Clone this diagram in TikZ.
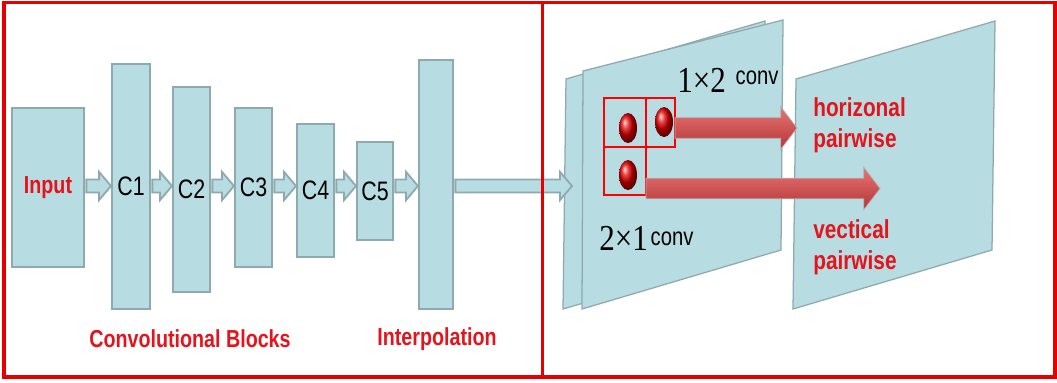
\documentclass[tikz,border=0pt]{standalone}
\usepackage{fontspec}
\usepackage{graphicx}
\usetikzlibrary{calc, shapes.geometric}
\newfontfamily\narrowsans{Liberation Sans}[FakeStretch=0.8]
\newfontfamily\narrowserif{Liberation Serif}[FakeStretch=0.85]
\definecolor{fmfill}{HTML}{B7DDE3}
\definecolor{fmline}{HTML}{8FAAAE}
\definecolor{framered}{HTML}{E60000}
\definecolor{textred}{HTML}{E3141C}
\definecolor{dotred}{HTML}{E00000}
\definecolor{pairred}{HTML}{E04444}

\newcommand{\flowarrow}[2]{%
  \draw[flowarrow] let \p1=#1, \p2=#2, \p3=(axis) in
    (\x1+1pt,\y3+4.6pt) -- (\x2-8.5pt,\y3+4.6pt) -- (\x2-8.5pt,\y3+10pt)
    -- (\x2,\y3) -- (\x2-8.5pt,\y3-10pt) -- (\x2-8.5pt,\y3-4.6pt)
    -- (\x1+1pt,\y3-4.6pt) -- cycle;}
\newcommand{\pairarrow}[2]{%
  \draw[pairarrow] let \p1=#1, \p2=#2 in
    (\x1,\y2+7.3pt) -- (\x2-11.5pt,\y2+7.3pt) -- (\x2-11.5pt,\y2+15pt)
    -- (\x2,\y2) -- (\x2-11.5pt,\y2-15pt) -- (\x2-11.5pt,\y2-7.3pt)
    -- (\x1,\y2-7.3pt) -- cycle;}

\begin{document}
\begin{tikzpicture}[x=0.025cm, y=-0.025cm,
  fmap/.style={draw=fmline, fill=fmfill, line width=1.4pt, inner sep=0pt,
               font=\narrowsans\fontsize{19}{22}\selectfont},
  flowarrow/.style={draw=fmline, fill=fmfill, line width=1.3pt, line join=miter},
  featplane/.style={draw=fmline, fill=fmfill, line width=0.9pt},
  kernelcell/.style={draw=red, line width=1.1pt, inner sep=0pt, outer sep=0pt},
  kerneldot/.style={ellipse, inner sep=0pt, minimum width=0.45cm,
                    minimum height=0.75cm, shading=ball, ball color=dotred},
  pairarrow/.style={draw=gray!60, line width=0.5pt, top color=pairred!75!white,
                    middle color=pairred, bottom color=pairred!80!black},
  redlbl/.style={text=textred, inner sep=0pt,
                 font=\narrowsans\bfseries\fontsize{17.5}{21}\selectfont},
  pairlbl/.style={text=textred, inner sep=0pt, align=left,
                  font=\narrowsans\bfseries\fontsize{18.5}{22}\selectfont},
  convlbl/.style={inner sep=0pt, font=\narrowserif\fontsize{26}{30}\selectfont},
  panel/.style={draw=framered, line width=2.2pt},
]
\useasboundingbox (0,0) rectangle (1057,382);

\node[fmap, minimum width=1.8cm, minimum height=3.975cm] (in) at (48,187.5)
  {\color{textred}\bfseries\fontsize{17.5}{21}\selectfont Input};
\node[fmap, minimum width=0.95cm, minimum height=6.125cm] (c1) at (131,186.5) {C1};
\node[fmap, minimum width=0.925cm, minimum height=5.125cm] (c2) at (191.5,189.5) {C2};
\node[fmap, minimum width=0.925cm, minimum height=3.975cm] (c3) at (253.5,187.5) {C3};
\node[fmap, minimum width=0.925cm, minimum height=3.325cm] (c4) at (315.5,190.5) {C4};
\node[fmap, minimum width=0.9cm, minimum height=2.45cm] (c5) at (375,191) {C5};
\node[fmap, minimum width=0.85cm, minimum height=6.225cm] (ip) at (436,184.5) {};

\draw[featplane] (566,79) -- (765,21) -- (765,250) -- (563,309) -- cycle;
\draw[featplane] (583,71) -- (783,20) -- (781,250) -- (582,309) -- cycle;
\draw[featplane] (796,79) -- (995,21) -- (992,250) -- (793,309) -- cycle;

\coordinate (axis) at (0,186);
\coordinate (fmIn) at (572,186);
\flowarrow{(in.east)}{(c1.west)}
\flowarrow{(c1.east)}{(c2.west)}
\flowarrow{(c2.east)}{(c3.west)}
\flowarrow{(c3.east)}{(c4.west)}
\flowarrow{(c4.east)}{(c5.west)}
\flowarrow{(c5.east)}{(ip.west)}
\flowarrow{(ip.east)}{(fmIn)}

\node[kernelcell, minimum width=1.05cm, minimum height=1.225cm] (cellA) at (625,122.5) {};
\node[kernelcell, minimum width=0.725cm, minimum height=1.225cm, anchor=west] (cellB) at (cellA.east) {};
\node[kernelcell, minimum width=1.05cm, minimum height=1.2cm, anchor=north] (cellC) at (cellA.south) {};
\node[kerneldot] (dotA) at (628,128) {};
\node[kerneldot] (dotB) at (664,122) {};
\node[kerneldot] (dotC) at (628,175) {};

\coordinate (hTip) at (797,128);
\coordinate (vTip) at (880,188.5);
\pairarrow{(cellB.east |- hTip)}{(hTip)}
\pairarrow{(cellC.east |- vTip)}{(vTip)}

\node[convlbl, anchor=base west] (hconv) at (677,92)
  {1×2\hspace{7pt}\raisebox{5pt}{\narrowsans\fontsize{18}{20}\selectfont conv}};
\node[convlbl, anchor=base west] (vconv) at (599,250)
  {2×1\hspace{2pt}\raisebox{3pt}{\narrowsans\fontsize{18}{20}\selectfont conv}};
\node[pairlbl, anchor=north west] (hlabel) at (813,97) {horizonal\\pairwise};
\node[pairlbl, anchor=north west] (vlabel) at (813,219) {vectical\\pairwise};

\node[redlbl] (convlabel) at (190,339) {Convolutional Blocks};
\node[redlbl] (iplabel) at (437,339) {Interpolation};

\draw[panel] (4,2.5) rectangle (542.5,377);
\draw[panel] (542.5,2.5) rectangle (1055,377);
\end{tikzpicture}
\end{document}
